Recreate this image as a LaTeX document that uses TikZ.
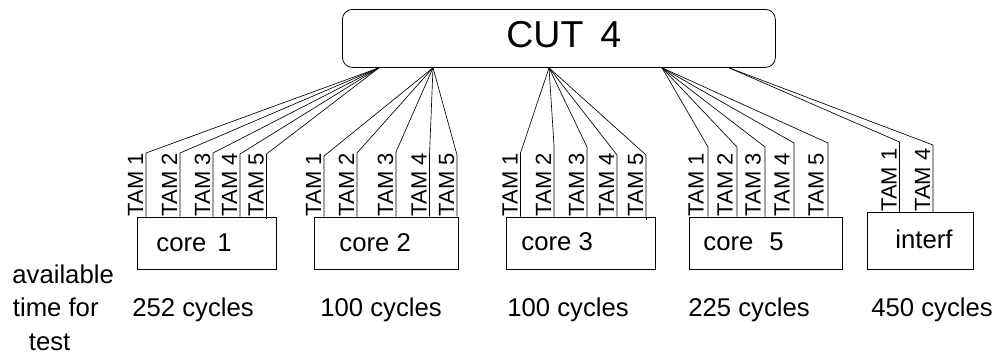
\documentclass[tikz,border=0pt]{standalone}
\usepackage{fontspec}
\setmainfont{Liberation Sans}
\usetikzlibrary{calc}

\begin{document}
\begin{tikzpicture}[x=1pt, y=-1pt, line width=0.8pt,
  corebox/.style={draw, rectangle, inner sep=0pt, anchor=north west},
  corelbl/.style={inner sep=0pt, anchor=base west, font=\fontsize{25.7}{28}\selectfont},
  txt/.style={inner sep=0pt, anchor=base west, font=\fontsize{25.7}{28}\selectfont},
  tam/.style={inner sep=0pt, anchor=base west, rotate=90, font=\fontsize{22}{24}\selectfont},
  wire/.style={line width=0.65pt}]

\useasboundingbox (0,0) rectangle (993,359);

% circuit under test
\node[draw, rounded corners=10pt, inner sep=0pt, anchor=north west,
      minimum width=433pt, minimum height=58pt] (cut) at (342,9) {};
\node[inner sep=0pt, anchor=base west, font=\fontsize{37.5}{40}\selectfont]
      (cutlbl) at (506,47.7) {CUT\hspace{17pt}4};

% cores
\node[corebox, minimum width=139pt, minimum height=52pt] (c1) at (137,216.7) {};
\node[corebox, minimum width=144pt, minimum height=52pt] (c2) at (314,216.7) {};
\node[corebox, minimum width=149pt, minimum height=52pt] (c3) at (506,216.7) {};
\node[corebox, minimum width=153pt, minimum height=52pt] (c5) at (689,216.7) {};
\node[corebox, minimum width=106pt, minimum height=56.5pt] (ci) at (867,212) {};

\node[corelbl] (c1lbl) at (156,251.5) {core\hspace{11pt}1};
\node[corelbl] (c2lbl) at (339,251.5) {core 2};
\node[corelbl] (c3lbl) at (521,250.5) {core 3};
\node[corelbl] (c5lbl) at (703,250.5) {core\hspace{16pt}5};
\node[corelbl] (cilbl) at (895,248.5) {interf};

% fan-out points on the CUT
\coordinate (f1) at ($(cut.south west)+(37,0)$);
\coordinate (f2) at ($(cut.south west)+(91,0)$);
\coordinate (f3) at ($(cut.south west)+(207,0)$);
\coordinate (f5) at ($(cut.south west)+(320,0)$);
\coordinate (fi) at ($(cut.south west)+(387,0)$);

% TAM wires and labels of the five-TAM cores
\foreach \core/\fan/\gap/\pts in {
    c1/f1/3/{146/153,180/153,213/153,240/154,266.5/154},
    c2/f2/3/{324/156,357/153,396/152,429.5/155,457/155},
    c3/f3/3/{520.5/153,554/145,587/147,617/155,646/155},
    c5/f5/4.5/{708/147,737/147,765/147,794/143,828/143}} {
  \foreach \x/\y [count=\i] in \pts {
    \coordinate (\core t\i) at (\x,\y);
    \draw[wire] (\fan) -- (\core t\i) -- (\core t\i |- \core.north);
    \node[tam] (\core l\i) at ($(\core t\i |- \core.north)+(-\gap,0)$) {TAM \i};
  }
}
% the fifth wire of cores 1 and 3 runs a little into the box
\draw[wire] (c1t5 |- c1.north) -- ++(0,2);
\draw[wire] (c3t5 |- c3.north) -- ++(0,3);

% interface wires
\coordinate (cit1) at (899.5,142);
\coordinate (cit4) at (933,145);
\draw[wire] (fi) -- (cit1) -- (cit1 |- ci.north);
\draw[wire] (fi) -- (cit4) -- (cit4 |- ci.north);
\node[tam] (cil1) at ($(cit1 |- ci.north)+(-3,0)$) {TAM 1};
\node[tam] (cil4) at ($(cit4 |- ci.north)+(-3,0)$) {TAM 4};

% available test time
\node[txt] (avail) at (12,283.5) {available};
\node[txt] (timefor) at (12.5,316.7) {time for};
\node[txt] (test) at (28.5,350) {test};

\node[txt] (cy1) at (132,316.7) {252 cycles};
\node[txt] (cy2) at (320,316.7) {100 cycles};
\node[txt] (cy3) at (507,316.7) {100 cycles};
\node[txt] (cy5) at (688,316.7) {225 cycles};
\node[txt] (cyi) at (871,316.7) {450 cycles};

\end{tikzpicture}
\end{document}
